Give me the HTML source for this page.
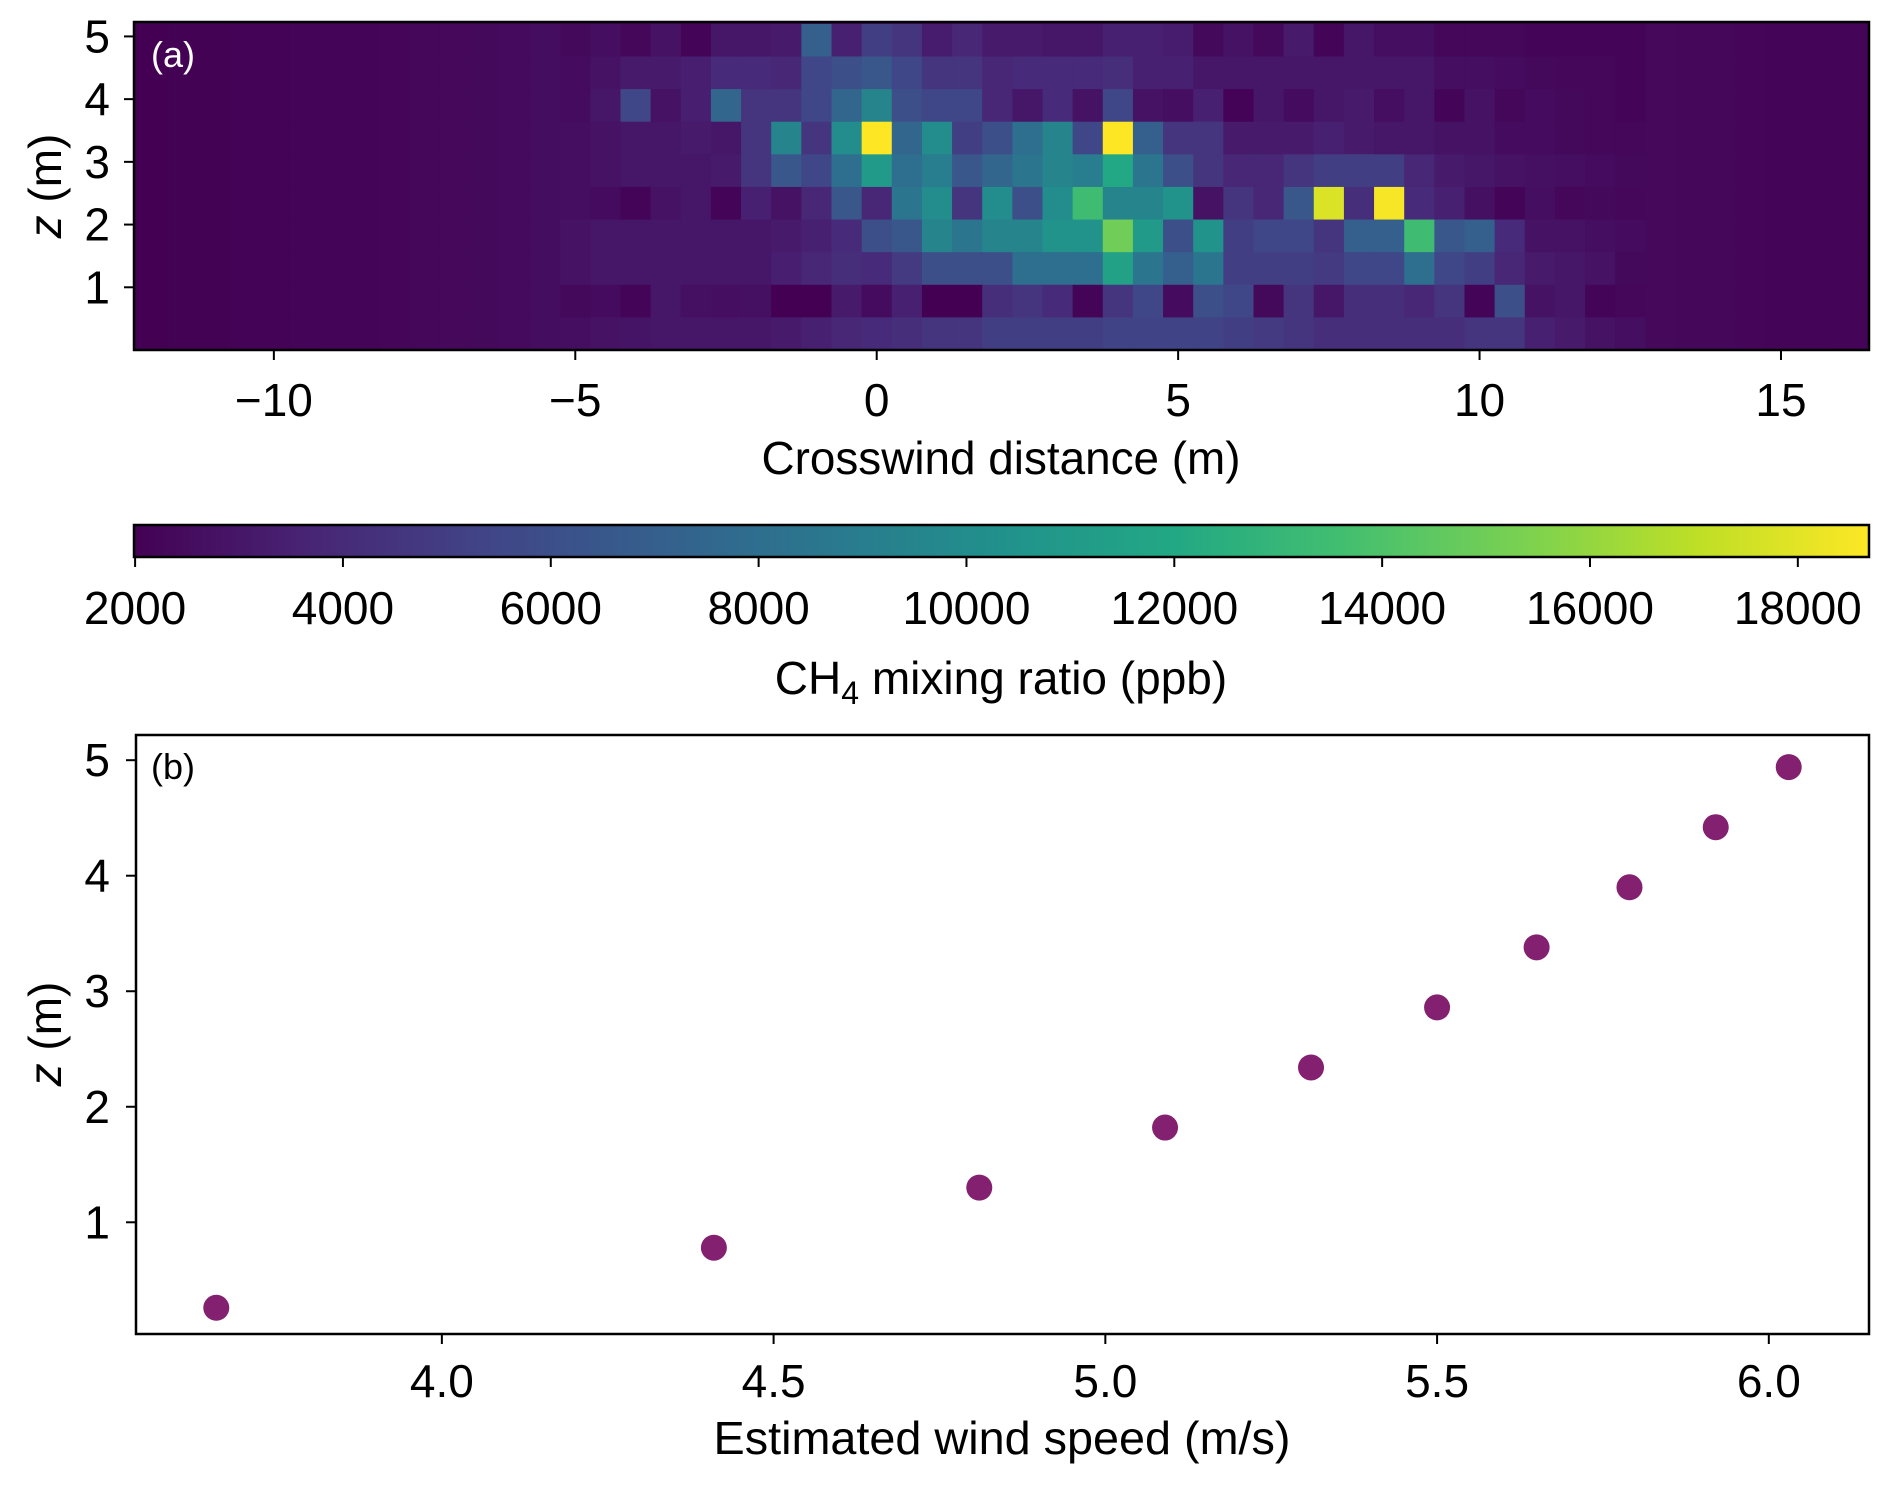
<!DOCTYPE html>
<html><head><meta charset="utf-8"><style>
html,body{margin:0;padding:0;background:#fff;}
svg{display:block;font-family:"Liberation Sans",sans-serif;}
</style></head><body>
<svg id="fig" width="1892" height="1487" viewBox="0 0 1892 1487" xmlns="http://www.w3.org/2000/svg">
<g id="heat"></g>
<g id="cbar"></g>
<g id="scat"></g>
</svg>
<script>
// ---------- data ----------
const heatX0 = -12.5;       // center of first column (m)
const heatDx = 0.5;         // column width (m)
const heatZ = [4.94,4.42,3.90,3.38,2.86,2.34,1.82,1.30,0.78,0.26];
const bgLeft = [2.0,2.0,2.05,2.05,2.1,2.1,2.15,2.2,2.2,2.25,2.3,2.35,2.4,2.45,2.55];
const bgRight = [2.35,2.3,2.3,2.25,2.2,2.2,2.15,2.15,2.1];
const row0 = [2.4,2.6,2.3,2.8,2.2,3.0,3.0,3.2,7.0,3.5,5.0,4.5,3.3,3.8,3.2,3.2,3.0,3.0,3.5,3.5,3.3,2.4,2.8,2.4,3.2,2.2,3.0,2.6,2.6,2.3,2.3,2.3,2.2,2.2,2.2,2.2];
const row1 = [2.5,2.8,3.2,3.2,3.4,4.0,4.0,3.8,5.5,6.0,6.5,5.5,4.5,4.5,3.8,4.0,4.0,4.0,4.2,3.5,3.5,3.0,3.0,3.0,3.0,3.0,3.0,3.0,3.0,2.6,2.6,2.5,2.4,2.3,2.3,2.2];
const row2 = [2.5,3.0,5.5,2.8,3.4,7.5,4.5,4.5,5.5,7.5,9.5,6.0,5.5,5.5,3.8,3.0,4.0,2.8,5.5,2.8,2.6,3.5,2.1,3.0,2.5,3.0,3.2,2.6,3.0,2.2,2.8,2.3,2.5,2.4,2.3,2.2];
const row3 = [2.6,2.8,3.0,3.0,3.2,3.0,4.5,9.5,4.5,10.0,18.8,7.5,10.0,5.0,6.0,8.0,9.5,5.5,18.8,7.0,4.5,4.5,3.2,3.2,3.2,3.5,3.2,3.0,3.0,2.8,2.8,2.5,2.5,2.4,2.3,2.3];
const row4 = [2.6,2.8,3.0,3.0,3.0,3.2,4.5,6.5,5.5,8.0,11.0,8.0,9.0,6.5,7.5,8.5,9.5,9.0,12.0,8.5,6.0,4.5,3.8,3.8,4.5,5.0,5.0,5.0,3.8,3.2,3.0,2.8,2.7,2.6,2.5,2.4];
const row5 = [2.6,2.5,2.2,2.8,3.0,2.2,3.5,2.8,3.8,6.5,3.8,8.5,10.0,4.5,10.0,6.0,10.0,13.5,9.5,9.5,10.5,2.8,4.5,3.8,6.5,17.8,4.2,18.5,4.0,3.5,2.7,2.2,2.6,2.3,2.4,2.3];
const row6 = [2.8,3.0,3.0,3.0,3.0,3.0,3.0,3.2,3.5,4.0,6.0,6.5,9.5,8.5,9.5,9.5,10.5,10.5,15.0,11.0,6.0,10.5,5.0,5.5,5.5,4.5,7.0,7.0,13.5,6.5,7.0,4.0,2.8,2.8,2.6,2.5];
const row7 = [2.8,3.0,3.0,3.0,3.0,3.0,3.0,3.4,3.8,4.2,4.0,4.8,6.0,6.0,6.0,8.0,8.0,8.0,11.5,8.5,7.0,8.5,5.0,5.0,5.0,4.8,5.5,5.5,8.0,5.5,5.0,3.8,3.2,3.0,2.8,2.4];
const row8 = [2.4,2.5,2.2,3.0,2.7,2.6,2.7,2.0,2.0,3.2,2.5,3.5,2.0,2.0,4.2,4.5,4.0,2.2,4.5,5.5,2.5,6.0,5.5,2.4,4.5,3.0,4.2,4.2,3.8,4.5,2.2,6.0,2.8,3.0,2.2,2.3];
const row9 = [2.6,2.8,2.9,3.0,3.0,3.0,3.0,3.2,3.5,3.8,4.0,4.2,4.5,4.5,5.0,5.0,5.0,5.0,5.3,5.3,5.3,5.3,5.0,4.8,4.5,4.2,4.2,4.2,4.2,4.2,4.5,4.5,3.5,3.2,2.8,2.6];
const heatRows = [row0,row1,row2,row3,row4,row5,row6,row7,row8,row9];
const heatXTicks = [-10,-5,0,5,10,15];
const heatYTicks = [1,2,3,4,5];
const cbarTicks = [2000,4000,6000,8000,10000,12000,14000,16000,18000];
const windSpeed = [3.66,4.41,4.81,5.09,5.31,5.50,5.65,5.79,5.92,6.03];
const windZ = [0.26,0.78,1.30,1.82,2.34,2.86,3.38,3.90,4.42,4.94];
const scatXTicks = [4.0,4.5,5.0,5.5,6.0];
const scatYTicks = [1,2,3,4,5];

// ---------- helpers ----------
const NS = "http://www.w3.org/2000/svg";
function mk(tag, attrs, parent){const e=document.createElementNS(NS,tag);for(const k in attrs)e.setAttribute(k,attrs[k]);parent.appendChild(e);return e;}
const vir = ["#440154","#482475","#414487","#355f8d","#2a788e","#21918c","#22a884","#44bf70","#7ad151","#bddf26","#fde725"];
function hex(c){return [1,3,5].map(i=>parseInt(c.substr(i,2),16));}
const VMIN=2000, VMAX=18690;
function cmap(v){let t=(v-VMIN)/(VMAX-VMIN);t=Math.max(0,Math.min(1,t));const p=t*10;const i=Math.min(9,Math.floor(p));const f=p-i;const a=hex(vir[i]),b=hex(vir[i+1]);return "rgb("+a.map((x,k)=>Math.round(x+(b[k]-x)*f)).join(",")+")";}

// ---------- panel a ----------
const H = {l:134,r:1869,t:22,b:350,xmin:-12.32,xmax:16.46,zmin:0,zmax:5.23};
const hx = x => H.l+(x-H.xmin)*(H.r-H.l)/(H.xmax-H.xmin);
const hz = z => H.b-(z-H.zmin)*(H.b-H.t)/(H.zmax-H.zmin);
const gh = document.getElementById('heat');
mk('defs',{},gh).innerHTML='<clipPath id="hclip"><rect x="134" y="22" width="1735" height="328"/></clipPath>';
const bg = mk('rect',{x:H.l,y:H.t,width:H.r-H.l,height:H.b-H.t,fill:cmap(2100)},gh);


const cells = mk('g',{'clip-path':'url(#hclip)'},gh);
heatRows.forEach((mid,ri)=>{
  const full = bgLeft.concat(mid,bgRight);
  const z = heatZ[ri];
  full.forEach((v,ci)=>{
    const xc = heatX0+ci*heatDx;
    const x0 = hx(xc-heatDx/2), x1 = hx(xc+heatDx/2);
    const y0 = hz(z+0.26), y1 = hz(z-0.26);
    const r = mk('rect',{x:x0.toFixed(2),y:y0.toFixed(2),width:(x1-x0+0.6).toFixed(2),height:(y1-y0+0.6).toFixed(2),fill:cmap(v*1000)},cells);
    
    
  });
});
const hframe = mk('rect',{x:H.l,y:H.t,width:H.r-H.l,height:H.b-H.t,fill:'none',stroke:'#000','stroke-width':2.5},gh);


heatXTicks.forEach(v=>{
  const x=hx(v);
  mk('line',{x1:x,x2:x,y1:H.b,y2:H.b+10,stroke:'#000','stroke-width':2},gh);
  const t=mk('text',{x:x,y:416,'font-size':46,'text-anchor':'middle'},gh);
  t.textContent = v<0 ? '\u2212'+Math.abs(v) : String(v);
  
  
});
heatYTicks.forEach(v=>{
  const y=hz(v);
  mk('line',{x1:H.l-10,x2:H.l,y1:y,y2:y,stroke:'#000','stroke-width':2},gh);
  const t=mk('text',{x:110,y:y+16,'font-size':46,'text-anchor':'end'},gh);
  t.textContent=String(v);
  
  
});
gh.insertAdjacentHTML('beforeend',
 '<text x="1001" y="474" font-size="46" text-anchor="middle" textLength="479" lengthAdjust="spacingAndGlyphs">Crosswind distance (m)</text>'+
 '<text transform="translate(61,186) rotate(-90)" font-size="46" text-anchor="middle"><tspan font-style="italic">z</tspan> (m)</text>'+
 '<text x="151" y="67" font-size="36" fill="#fff">(a)</text>');

// ---------- colorbar ----------
const C = {l:134,r:1869,t:525,b:557};
const cx = v => 135.1+(v-2000)*0.10392;
const gc = document.getElementById('cbar');
let stops=''; for(let i=0;i<=10;i++){stops+='<stop offset="'+(i*10)+'%" stop-color="'+vir[i]+'"/>';}
mk('defs',{},gc).innerHTML='<linearGradient id="vg" x1="0" x2="1" y1="0" y2="0">'+stops+'</linearGradient>';
const cb = mk('rect',{x:C.l,y:C.t,width:C.r-C.l,height:C.b-C.t,fill:'url(#vg)',stroke:'#000','stroke-width':2.5},gc);


cbarTicks.forEach(v=>{
  const x=cx(v);
  mk('line',{x1:x,x2:x,y1:C.b,y2:C.b+10,stroke:'#000','stroke-width':2},gc);
  const t=mk('text',{x:x,y:624,'font-size':46,'text-anchor':'middle'},gc);
  t.textContent=String(v);
  
  
});
gc.insertAdjacentHTML('beforeend','<text x="1001" y="694" font-size="46" text-anchor="middle">CH<tspan font-size="32" dy="10">4</tspan><tspan dy="-10"> mixing ratio (ppb)</tspan></text>');

// ---------- panel b ----------
const S = {l:136,r:1869,t:735,b:1334,xmin:3.539,xmax:6.151,zmin:0.033,zmax:5.218};
const sx = v => S.l+(v-S.xmin)*(S.r-S.l)/(S.xmax-S.xmin);
const sz = z => S.b-(z-S.zmin)*(S.b-S.t)/(S.zmax-S.zmin);
const gs = document.getElementById('scat');
const sframe = mk('rect',{x:S.l,y:S.t,width:S.r-S.l,height:S.b-S.t,fill:'none',stroke:'#000','stroke-width':2.5},gs);


windSpeed.forEach((v,i)=>{
  const c=mk('circle',{cx:sx(v),cy:sz(windZ[i]),r:13,fill:'#83206f'},gs);
  
  
});
scatXTicks.forEach(v=>{
  const x=sx(v);
  mk('line',{x1:x,x2:x,y1:S.b,y2:S.b+10,stroke:'#000','stroke-width':2},gs);
  const t=mk('text',{x:x,y:1397,'font-size':46,'text-anchor':'middle'},gs);
  t.textContent=v.toFixed(1);
  
  
});
scatYTicks.forEach(v=>{
  const y=sz(v);
  mk('line',{x1:S.l-10,x2:S.l,y1:y,y2:y,stroke:'#000','stroke-width':2},gs);
  const t=mk('text',{x:110,y:y+16,'font-size':46,'text-anchor':'end'},gs);
  t.textContent=String(v);
  
  
});
gs.insertAdjacentHTML('beforeend',
 '<text x="1002" y="1454" font-size="46" text-anchor="middle" textLength="577" lengthAdjust="spacingAndGlyphs">Estimated wind speed (m/s)</text>'+
 '<text transform="translate(61,1034) rotate(-90)" font-size="46" text-anchor="middle"><tspan font-style="italic">z</tspan> (m)</text>'+
 '<text x="151" y="779" font-size="36" fill="#000">(b)</text>');
</script>
</body></html>
